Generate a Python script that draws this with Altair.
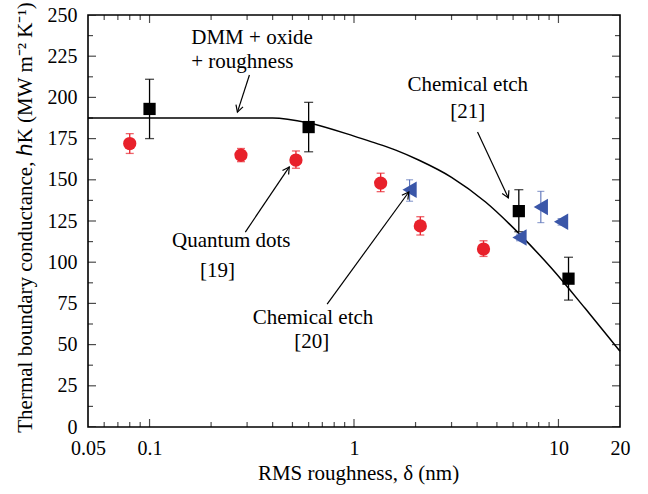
import math
import altair as alt
import pandas as pd

# ---------------- data ----------------
# DMM + oxide + roughness model curve
curve_x = [0.05, 0.4, 0.6, 1.0, 1.22, 1.6, 2.07, 3.0, 4.4, 6.4, 9.3, 13.5, 20.0]
curve_y = [187.5, 187.5, 184.5, 176.5, 173.0, 168.0, 162.0, 151.5, 136.5, 117.5, 96.0, 72.0, 46.0]

# black squares
sq_x = [0.1, 0.6, 6.4, 11.2]
sq_y = [193, 182, 131, 90]
sq_lo = [175, 167, 118.5, 77]
sq_hi = [211, 197, 144, 103]

# red circles (Quantum dots [19])
rd_x = [0.08, 0.28, 0.52, 1.35, 2.11, 4.3]
rd_y = [172, 165, 162, 148, 122, 108]
rd_lo = [166, 161, 157, 142.8, 116.5, 103.5]
rd_hi = [178, 169, 167.5, 154, 127.6, 113]

# blue left triangles (Chemical etch [20])
bl_x = [1.87, 6.45, 8.2, 10.3]
bl_y = [144, 115, 133.5, 124.5]
bl_lo = [137, 113, 124, 122.5]
bl_hi = [150, 117, 143, 126.5]

# annotations
lab_left_text = ["DMM + oxide", "+ roughness"]
lab_left_x = [0.160, 0.160]
lab_left_y = [235.9, 221.7]

lab_text = ["Chemical etch", "[21]", "Quantum dots", "[19]", "Chemical etch", "[20]"]
lab_x = [3.60, 3.60, 0.251, 0.215, 0.630, 0.622]
lab_y = [207.5, 191.3, 113.0, 94.7, 66.4, 51.6]

arrow_x1 = [0.308, 4.02, 0.294, 0.739]
arrow_y1 = [213.6, 179.0, 118.3, 74.6]
arrow_x2 = [0.269, 5.69, 0.4825, 1.854]
arrow_y2 = [191.1, 139.0, 157.8, 142.6]

# axis ticks
x_labels = [0.05, 0.1, 1, 10, 20]
x_major = [0.1, 1, 10]
x_minor = [0.06, 0.07, 0.08, 0.09, 0.2, 0.3, 0.4, 0.5, 0.6, 0.7, 0.8, 0.9,
           2, 3, 4, 5, 6, 7, 8, 9]
y_labels = [0, 25, 50, 75, 100, 125, 150, 175, 200, 225, 250]
y_minor = [12.5, 37.5, 62.5, 87.5, 112.5, 137.5, 162.5, 187.5, 212.5, 237.5]

# ---------------- layout / style ----------------
W, H = 532, 412
FONT = "Liberation Serif"
FS_LAB = 20
FS_TITLE = 21
FS_TXT = 21
RED = "#e8212b"
BLUE = "#3a56a8"

xscale = alt.Scale(type="log", domain=[0.05, 20], nice=False)
yscale = alt.Scale(domain=[0, 250], nice=False, zero=False)

x_axis = alt.Axis(values=x_labels, format="~g", title="RMS roughness, δ (nm)",
                  domain=False, ticks=False, grid=False, labelFlush=False,
                  labelFont=FONT, labelFontSize=FS_LAB, labelColor="black",
                  labelPadding=11, titleFont=FONT, titleFontSize=FS_TITLE,
                  titleFontWeight="normal", titleColor="black",
                  titleX=W / 2 + 4, titleY=46, titleBaseline="middle")
y_axis = alt.Axis(values=y_labels, format="d",
                  title="Thermal boundary conductance, ℎK (MW m⁻² K⁻¹)",
                  domain=False, ticks=False, grid=False, labelFlush=False,
                  labelFont=FONT, labelFontSize=FS_LAB, labelColor="black",
                  labelPadding=11, titleFont=FONT, titleFontSize=FS_TITLE,
                  titleFontWeight="normal", titleColor="black",
                  titleX=-63, titleY=H / 2 - 4, titleBaseline="middle",
                  titleAlign="center")


def X(f):
    return alt.X(f, type="quantitative", scale=xscale, axis=x_axis)


def Y(f):
    return alt.Y(f, type="quantitative", scale=yscale, axis=y_axis)


curve_df = pd.DataFrame({"x": curve_x, "y": curve_y})
sq_df = pd.DataFrame({"x": sq_x, "y": sq_y, "lo": sq_lo, "hi": sq_hi})
rd_df = pd.DataFrame({"x": rd_x, "y": rd_y, "lo": rd_lo, "hi": rd_hi})
bl_df = pd.DataFrame({"x": bl_x, "y": bl_y, "lo": bl_lo, "hi": bl_hi})


def px(x):
    return W * (math.log10(x) - math.log10(0.05)) / math.log10(400)


def py(y):
    return H * (1 - y / 250)


angles = []
for a, b, c, d in zip(arrow_x1, arrow_y1, arrow_x2, arrow_y2):
    dx = px(c) - px(a)
    dy = py(d) - py(b)
    angles.append(math.degrees(math.atan2(dx, -dy)) % 360)

arrow_df = pd.DataFrame({"x1": arrow_x1, "y1": arrow_y1, "x2": arrow_x2,
                         "y2": arrow_y2, "ang": angles})

xt_df = pd.DataFrame({"v": x_major + x_minor,
                      "len": [16] * len(x_major) + [10] * len(x_minor)})
yt_df = pd.DataFrame({"v": y_labels + y_minor,
                      "len": [16] * len(y_labels) + [10] * len(y_minor)})

curve = alt.Chart(curve_df).mark_line(color="black", strokeWidth=1.5,
                                      interpolate="monotone").encode(
    x=X("x"), y=Y("y"))


def errbars(df, color, cap, width=1.3):
    bar = alt.Chart(df).mark_rule(color=color, strokeWidth=width).encode(
        x=X("x"), y=Y("lo"), y2="hi")
    lo = alt.Chart(df).mark_tick(color=color, orient="horizontal", size=cap,
                                 thickness=width).encode(x=X("x"), y=Y("lo"))
    hi = alt.Chart(df).mark_tick(color=color, orient="horizontal", size=cap,
                                 thickness=width).encode(x=X("x"), y=Y("hi"))
    return bar + lo + hi


sq_err = errbars(sq_df, "black", 9)
rd_err = errbars(rd_df, RED, 8)
bl_err = errbars(bl_df, "#5870b8", 7, 1.1)

squares = alt.Chart(sq_df).mark_point(shape="square", filled=True, opacity=1,
                                      color="black", size=150).encode(x=X("x"), y=Y("y"))
circles = alt.Chart(rd_df).mark_point(shape="circle", filled=True, opacity=1,
                                      color=RED, size=175).encode(x=X("x"), y=Y("y"))
tris = alt.Chart(bl_df).mark_point(shape="triangle-left", filled=True, opacity=1,
                                   color=BLUE, size=270).encode(x=X("x"), y=Y("y"))

arrows = alt.Chart(arrow_df).mark_rule(color="black", strokeWidth=1.2).encode(
    x=X("x1"), y=Y("y1"), x2="x2", y2="y2")
heads = alt.Chart(arrow_df).mark_point(shape="M -0.55 1 L 0 0 L 0.55 1", filled=False,
                                       color="black", strokeWidth=1.2, opacity=1,
                                       size=180).encode(
    x=X("x2"), y=Y("y2"), angle=alt.Angle("ang:Q", scale=None))

txt_left = alt.Chart(pd.DataFrame({"x": lab_left_x, "y": lab_left_y, "t": lab_left_text})).mark_text(
    font=FONT, fontSize=FS_TXT, align="left", baseline="middle", color="black").encode(
    x=X("x"), y=Y("y"), text="t:N")
txt = alt.Chart(pd.DataFrame({"x": lab_x, "y": lab_y, "t": lab_text})).mark_text(
    font=FONT, fontSize=FS_TXT, align="center", baseline="middle", color="black").encode(
    x=X("x"), y=Y("y"), text="t:N")

# inward ticks on all four sides (clipped half of centred ticks)
xt_bottom = alt.Chart(xt_df).mark_tick(orient="vertical", color="black", thickness=1.2,
                                       clip=True).encode(
    x=X("v"), y=alt.value(H), size=alt.Size("len:Q", scale=None))
xt_top = alt.Chart(xt_df).mark_tick(orient="vertical", color="black", thickness=1.2,
                                    clip=True).encode(
    x=X("v"), y=alt.value(0), size=alt.Size("len:Q", scale=None))
yt_left = alt.Chart(yt_df).mark_tick(orient="horizontal", color="black", thickness=1.2,
                                     clip=True).encode(
    y=Y("v"), x=alt.value(0), size=alt.Size("len:Q", scale=None))
yt_right = alt.Chart(yt_df).mark_tick(orient="horizontal", color="black", thickness=1.2,
                                      clip=True).encode(
    y=Y("v"), x=alt.value(W), size=alt.Size("len:Q", scale=None))

chart = alt.layer(
    curve, xt_bottom, xt_top, yt_left, yt_right,
    sq_err, rd_err, bl_err, circles, tris, squares,
    arrows, heads, txt_left, txt,
).properties(
    width=W, height=H,
    autosize=alt.AutoSizeParams(type="none"),
    padding={"left": 88, "top": 15, "right": 648 - 88 - W, "bottom": 494 - 15 - H},
    background="white",
).configure_view(stroke="black", strokeWidth=1.6)

chart.save("out.html", embed_options={"renderer": "svg", "actions": False})
